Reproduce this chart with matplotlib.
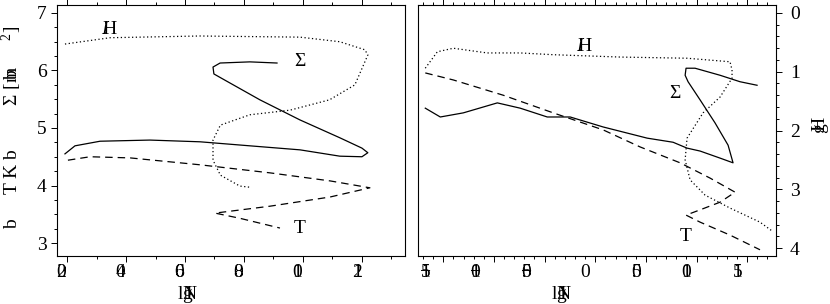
import matplotlib
matplotlib.use("Agg")
import matplotlib.pyplot as plt
import matplotlib.transforms as mtransforms
from matplotlib.ticker import MultipleLocator

plt.rcParams["font.family"] = ["Liberation Serif", "DejaVu Serif"]
plt.rcParams["mathtext.fontset"] = "custom"
plt.rcParams["mathtext.rm"] = "Liberation Serif"
plt.rcParams["mathtext.it"] = "Liberation Serif:italic"

# left panel (lgN vs log quantities)
left_H_x = [19.3, 34.6, 65.0, 99.0, 112.5, 121.0, 122.0, 117.6, 109.0, 95.6, 82.0, 72.0, 69.5, 69.5, 72.0, 78.6, 82.0]
left_H_y = [6.46, 6.57, 6.60, 6.58, 6.50, 6.36, 6.27, 5.75, 5.49, 5.31, 5.23, 5.05, 4.79, 4.44, 4.18, 3.99, 3.97]

left_S_x = [91.2, 82.0, 71.9, 69.5, 69.8, 73.6, 85.4, 99.0, 112.5, 120.0, 122.0, 120.0, 112.5, 99.0, 82.0, 65.1, 48.1, 31.2, 22.7, 19.3]
left_S_y = [6.13, 6.15, 6.13, 6.06, 5.94, 5.83, 5.49, 5.14, 4.83, 4.65, 4.57, 4.50, 4.51, 4.62, 4.69, 4.76, 4.79, 4.77, 4.69, 4.55]

left_T_x = [20.3, 27.8, 41.4, 65.1, 88.8, 109.2, 122.7, 109.2, 88.8, 70.2, 78.6, 92.2]
left_T_y = [4.44, 4.50, 4.48, 4.36, 4.22, 4.08, 3.96, 3.80, 3.64, 3.52, 3.43, 3.26]

# right panel
right_H_x = [-16.78, -15.59, -14.01, -10.66, -7.41, -4.15, 2.46, 9.06, 13.30, 13.50, 13.50, 12.32, 10.64, 9.06, 8.87, 9.36, 10.84, 13.30, 16.26, 17.45]
right_H_y = [0.94, 0.66, 0.60, 0.68, 0.68, 0.71, 0.75, 0.77, 0.83, 0.97, 1.11, 1.43, 1.70, 2.13, 2.50, 2.84, 3.10, 3.32, 3.56, 3.71]

right_S_x = [15.97, 14.29, 12.32, 9.85, 8.96, 8.87, 9.16, 10.35, 11.82, 13.11, 13.60, 12.32, 10.35, 9.06, 7.68, 5.12, 0.78, -2.48, -4.74, -7.41, -9.67, -13.03, -15.30, -16.78]
right_S_y = [1.23, 1.17, 1.06, 0.94, 0.94, 1.06, 1.17, 1.48, 1.87, 2.25, 2.55, 2.47, 2.35, 2.30, 2.20, 2.13, 1.94, 1.77, 1.77, 1.62, 1.53, 1.70, 1.77, 1.62]

right_T_x = [-16.78, -14.01, -9.08, -4.15, 0.78, 4.43, 8.37, 11.33, 13.80, 12.32, 10.35, 8.96, 10.35, 13.30, 16.26]
right_T_y = [1.02, 1.14, 1.40, 1.70, 1.99, 2.28, 2.55, 2.81, 3.05, 3.22, 3.35, 3.44, 3.56, 3.78, 4.03]

# tick values and the (overprinted) labels as they appear
left_xticks = [20, 40, 60, 80, 100, 120]
left_xlabels = ["20", "40", "60", "80", "10", "12"]
left_yticks = [3, 4, 5, 6, 7]
right_xticks = [-15, -10, -5, 0, 5, 10, 15]
right_xlabels = ["-15", "-10", "-50", "0", "50", "10", "15"]
right_yticks = [0, 1, 2, 3, 4]

FS = 14
BACK = r"\!\!\!\!"


def stack(s, back=BACK):
    # all characters printed on top of each other, as in the original figure
    return "$" + back.join(r"\mathrm{%s}" % c for c in s) + "$"


def put(fig, ax, x, y, s, trans, dx=0, dy=0, **kw):
    t = mtransforms.offset_copy(trans, fig=fig, x=dx, y=dy, units="points")
    ax.text(x, y, s, transform=t, ha="center", va="center", fontsize=FS, clip_on=False, **kw)


fig = plt.figure(figsize=(8.3, 3.04), dpi=100)
ax1 = fig.add_axes([57 / 830, 48 / 304, 348 / 830, 251 / 304])
ax2 = fig.add_axes([418 / 830, 48 / 304, 358 / 830, 251 / 304])

for ax in (ax1, ax2):
    for s in ax.spines.values():
        s.set_linewidth(0.8)
    ax.tick_params(which="both", direction="out", width=0.7, top=True, labelbottom=False)
    ax.tick_params(which="major", length=4)
    ax.tick_params(which="minor", length=2.5)

# left panel
ax1.plot(left_H_x, left_H_y, color="black", lw=0.9, ls=(0, (1, 2)))
ax1.plot(left_S_x, left_S_y, color="black", lw=0.9)
ax1.plot(left_T_x, left_T_y, color="black", lw=0.9, ls=(0, (6, 4)))
ax1.set_xlim(16.6, 134.6)
ax1.set_ylim(2.774, 7.139)
ax1.set_xticks(left_xticks)
ax1.xaxis.set_minor_locator(MultipleLocator(10))
ax1.set_yticks(left_yticks)
ax1.yaxis.set_minor_locator(MultipleLocator(0.25))
ax1.set_yticklabels([str(v) for v in left_yticks], fontsize=FS)
ax1.tick_params(axis="y", right=False)

for v, lab in zip(left_xticks, left_xlabels):
    put(fig, ax1, v, 0, stack(lab), ax1.get_xaxis_transform(), dx=-3.5, dy=-12)

ax1.text(34.6, 6.64, r"$\mathit{I}\!\!\mathrm{H}$", fontsize=FS, ha="center")
ax1.text(99, 6.08, "Σ", fontsize=FS, ha="center")
ax1.text(99, 3.18, "T", fontsize=FS, ha="center")

put(fig, ax1, 0.375, 0, r"$\mathrm{lg}\!\!\!\mathrm{I}\!\!\!\!\mathrm{N}$", ax1.transAxes, dx=0, dy=-28)

# left y label, pieces spread along the axis
ylab = r"b     T K b         Σ [$\mathrm{m}\!\!\!\!\!\mathrm{b}$      $^{2}$]"
fig.text(12 / 830, 1 - 127 / 304, ylab, rotation=90, ha="center", va="center", fontsize=FS)

# right panel
ax2.plot(right_H_x, right_H_y, color="black", lw=0.9, ls=(0, (1, 2)))
ax2.plot(right_S_x, right_S_y, color="black", lw=0.9)
ax2.plot(right_T_x, right_T_y, color="black", lw=0.9, ls=(0, (6, 4)))
ax2.set_xlim(-17.5, 17.84)
ax2.set_ylim(4.136, -0.136)
ax2.set_xticks(right_xticks)
ax2.xaxis.set_minor_locator(MultipleLocator(1))
ax2.set_yticks(right_yticks)
ax2.yaxis.set_minor_locator(MultipleLocator(0.2))
ax2.yaxis.tick_right()
ax2.set_yticklabels([str(v) for v in right_yticks], fontsize=FS)
ax2.tick_params(axis="y", left=False, right=True, pad=6)

for v, lab in zip(right_xticks, right_xlabels):
    dx = -13 if v < 0 else -7
    put(fig, ax2, v, 0, stack(lab), ax2.get_xaxis_transform(), dx=dx, dy=-12)

ax2.text(-1.0, 0.65, r"$\mathit{I}\!\!\mathrm{H}$", fontsize=FS, ha="center")
ax2.text(7.9, 1.45, "Σ", fontsize=FS, ha="center")
ax2.text(8.9, 3.88, "T", fontsize=FS, ha="center")

put(fig, ax2, 0.4, 0, r"$\mathrm{lg}\!\!\!\mathrm{I}\!\!\!\!\mathrm{N}$", ax2.transAxes, dx=0, dy=-28)

fig.text(820 / 830, 1 - 125 / 304, r"$\mathrm{g}\!\!\!\mathrm{H}$", rotation=90, ha="center", va="center", fontsize=FS)

fig.savefig("out.png", dpi=100)
